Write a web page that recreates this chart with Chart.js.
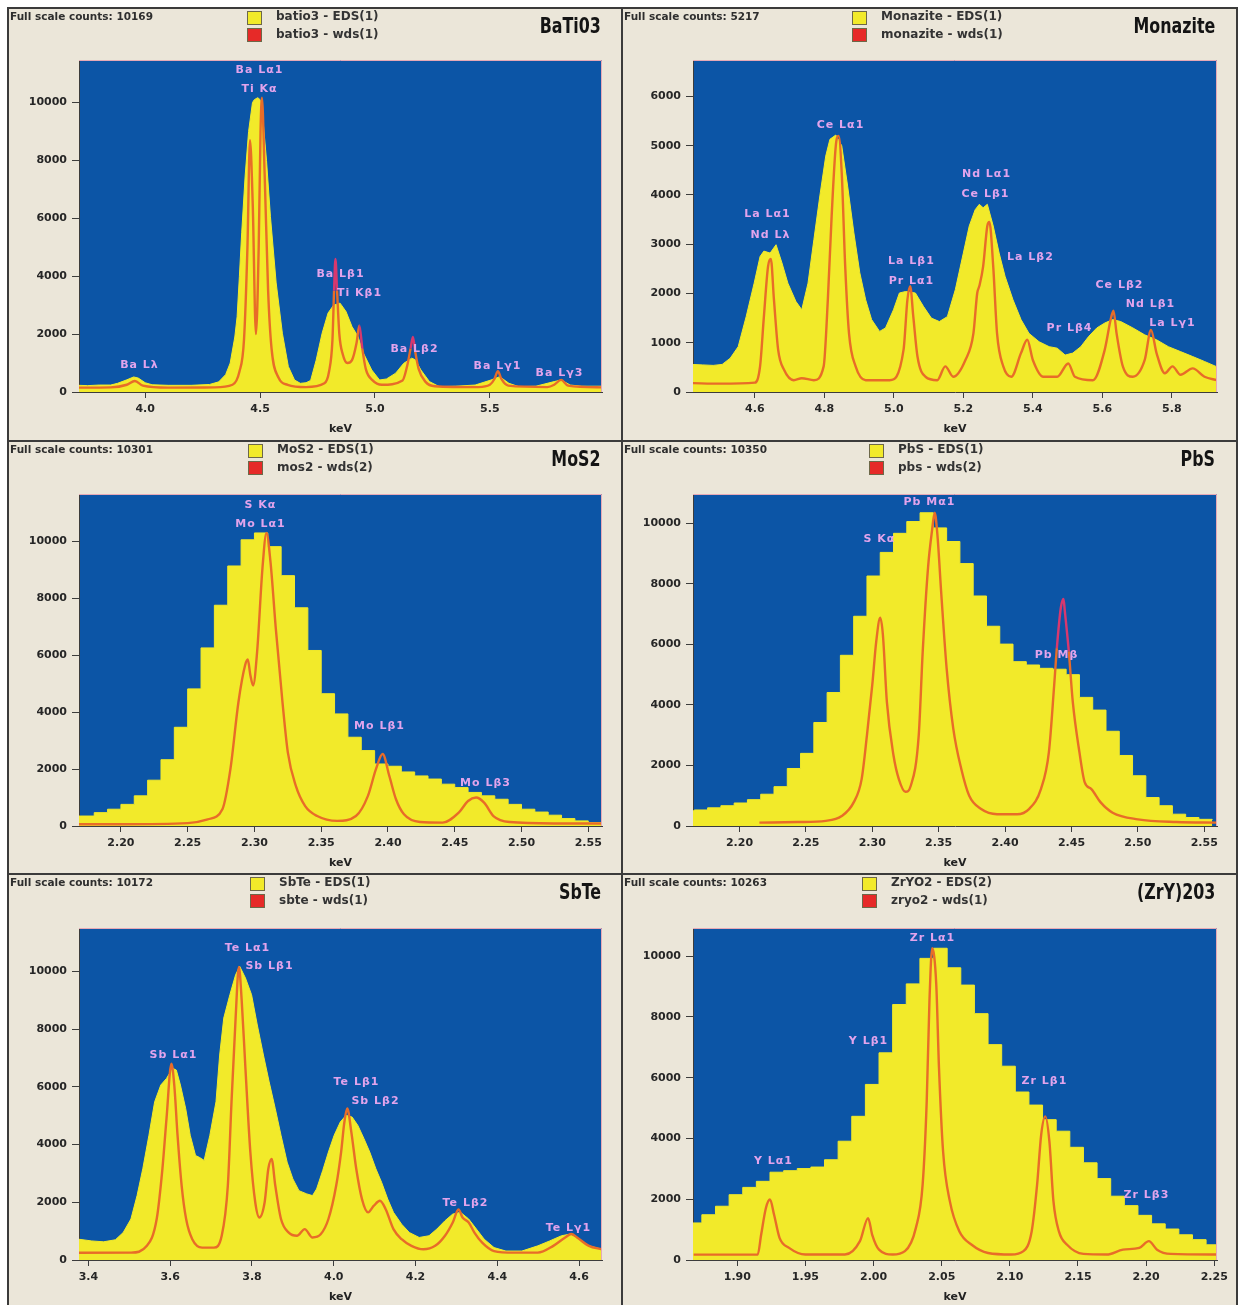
<!DOCTYPE html>
<html><head><meta charset="utf-8">
<script src="https://cdn.jsdelivr.net/npm/chart.js@4.4.1/dist/chart.umd.min.js"></script>
<style>
html,body{margin:0;padding:0;background:#ffffff;}
#wrap{position:relative;width:1245px;height:1305px;overflow:hidden;background:#ffffff;}
.panel{position:absolute;background:#ebe6d9;}
.rule{position:absolute;background:#3b3b3b;}
canvas{position:absolute;}
.fsc{position:absolute;font:bold 10.5px "DejaVu Sans",sans-serif;line-height:13px;color:#2e2e2e;white-space:nowrap;}
.sq{position:absolute;width:13px;height:12px;border:1px solid #6d6848;}
.lg{position:absolute;font:bold 12px "DejaVu Sans",sans-serif;line-height:13px;color:#333333;white-space:nowrap;}
.name{position:absolute;font:bold 21px "Liberation Sans Narrow","DejaVu Sans Condensed","DejaVu Sans",sans-serif;color:#141414;white-space:nowrap;line-height:22px;transform-origin:right center;transform:translateY(-50%) scaleX(0.84);}
</style>
</head><body>
<div id="wrap"></div>
<script>
// ---------------- DATA ----------------
// BaTiO3
const batioEds = [[3.712,230],[3.75,220],[3.80,240],[3.85,240],[3.88,300],[3.92,420],[3.95,520],[3.97,480],[4.00,320],[4.03,250],[4.10,230],[4.20,230],[4.28,260],[4.32,350],[4.35,600],[4.37,1000],[4.39,1900],[4.40,2600],[4.41,4000],[4.42,5500],[4.435,7460],[4.45,9000],[4.467,10000],[4.475,10100],[4.49,10169],[4.50,10100],[4.51,9650],[4.528,8000],[4.545,6070],[4.57,3770],[4.597,2030],[4.623,880],[4.65,415],[4.675,300],[4.70,320],[4.72,400],[4.744,1100],[4.77,2030],[4.796,2730],[4.82,3000],[4.848,3070],[4.874,2780],[4.90,2260],[4.926,1920],[4.95,1340],[4.986,760],[5.02,415],[5.05,450],[5.09,650],[5.125,990],[5.16,1170],[5.176,1110],[5.20,760],[5.237,360],[5.28,185],[5.35,200],[5.436,240],[5.505,415],[5.543,530],[5.583,300],[5.626,185],[5.70,200],[5.78,360],[5.81,415],[5.85,240],[5.90,200],[5.99,200]];
const batioWds = [[3.712,150],[3.85,160],[3.92,250],[3.955,380],[3.99,220],[4.10,150],[4.30,160],[4.38,250],[4.41,700],[4.43,1800],[4.445,5000],[4.456,8700],[4.468,6500],[4.482,2000],[4.494,5000],[4.502,9000],[4.508,10169],[4.52,7500],[4.535,3500],[4.55,1500],[4.58,500],[4.62,250],[4.70,170],[4.78,300],[4.80,700],[4.815,1800],[4.822,3500],[4.828,4600],[4.835,3500],[4.845,2000],[4.86,1300],[4.88,1000],[4.90,1100],[4.92,1700],[4.932,2300],[4.945,1500],[4.96,800],[4.99,400],[5.03,250],[5.12,400],[5.14,900],[5.155,1500],[5.165,1900],[5.175,1400],[5.19,800],[5.22,350],[5.26,200],[5.45,170],[5.50,250],[5.52,450],[5.535,720],[5.55,450],[5.58,220],[5.75,170],[5.78,250],[5.81,420],[5.84,220],[5.99,160]];
const batioXTicks = [4.0, 4.5, 5.0, 5.5];
const batioPeaks = [['Ba L\u03b11',4.495,11110],['Ti K\u03b1',4.497,10470],['Ba L\u03b21',4.846,4080],['Ti K\u03b21',4.929,3420],['Ba L\u03b22',5.168,1490],['Ba L\u03bb',3.971,930],['Ba L\u03b31',5.530,900],['Ba L\u03b33',5.800,660]];

// Monazite
const monaziteEds = [[4.418,560],[4.45,550],[4.48,540],[4.506,560],[4.529,685],[4.552,920],[4.575,1530],[4.598,2210],[4.615,2750],[4.626,2860],[4.644,2820],[4.661,2990],[4.678,2620],[4.695,2210],[4.718,1840],[4.735,1670],[4.753,2210],[4.77,3100],[4.787,3980],[4.804,4790],[4.816,5130],[4.833,5217],[4.85,5000],[4.867,4180],[4.885,3230],[4.902,2420],[4.919,1870],[4.936,1470],[4.959,1230],[4.976,1300],[4.999,1670],[5.016,2010],[5.034,2040],[5.062,2010],[5.085,1740],[5.108,1500],[5.131,1430],[5.154,1530],[5.177,2080],[5.20,2820],[5.217,3370],[5.234,3700],[5.246,3810],[5.257,3740],[5.269,3810],[5.286,3370],[5.303,2820],[5.32,2350],[5.343,1870],[5.366,1470],[5.389,1190],[5.418,1020],[5.447,920],[5.47,890],[5.493,750],[5.515,790],[5.538,920],[5.561,1130],[5.584,1300],[5.607,1400],[5.63,1470],[5.653,1430],[5.688,1300],[5.722,1160],[5.756,1060],[5.79,920],[5.825,820],[5.86,720],[5.894,620],[5.93,510]];
const monaziteWds = [[4.418,180],[4.5,170],[4.6,190],[4.615,520],[4.626,1530],[4.638,2550],[4.646,2700],[4.655,1870],[4.667,860],[4.684,450],[4.712,240],[4.735,280],[4.77,240],[4.798,520],[4.81,1870],[4.821,3570],[4.833,5000],[4.841,5200],[4.85,4450],[4.86,2550],[4.871,1190],[4.89,520],[4.919,240],[4.988,240],[5.028,860],[5.039,1870],[5.047,2150],[5.056,1530],[5.068,720],[5.091,310],[5.125,240],[5.148,520],[5.171,310],[5.206,650],[5.229,1190],[5.24,2010],[5.246,2150],[5.257,2550],[5.269,3370],[5.275,3450],[5.286,2550],[5.297,1190],[5.315,520],[5.338,310],[5.366,790],[5.384,1060],[5.40,650],[5.43,310],[5.47,310],[5.502,580],[5.521,310],[5.573,240],[5.607,860],[5.624,1470],[5.632,1650],[5.641,1190],[5.659,520],[5.688,310],[5.722,650],[5.74,1260],[5.756,790],[5.78,380],[5.802,520],[5.825,350],[5.86,480],[5.894,310],[5.93,240]];
const monaziteXTicks = [4.6, 4.8, 5.0, 5.2, 5.4, 5.6, 5.8];
const monazitePeaks = [['Ce L\u03b11',4.844,5416],['La L\u03b11',4.634,3604],['Nd L\u03bb',4.644,3197],['Nd L\u03b11',5.265,4418],['Ce L\u03b21',5.263,4011],['La L\u03b21',5.049,2654],['Pr L\u03b11',5.049,2260],['La L\u03b22',5.393,2735],['Pr L\u03b24',5.504,1296],['Ce L\u03b22',5.647,2179],['Nd L\u03b21',5.737,1792],['La L\u03b31',5.800,1398]];

// MoS2 (10 eV channels, value held from channel start)
const mos2EdsKeV = [2.16,2.17,2.18,2.19,2.20,2.21,2.22,2.23,2.24,2.25,2.26,2.27,2.28,2.29,2.30,2.31,2.32,2.33,2.34,2.35,2.36,2.37,2.38,2.39,2.40,2.41,2.42,2.43,2.44,2.45,2.46,2.47,2.48,2.49,2.50,2.51,2.52,2.53,2.54,2.55,2.56];
const mos2EdsCounts = [350,350,470,590,760,1060,1610,2330,3470,4820,6260,7760,9140,10060,10301,9820,8800,7670,6170,4650,3940,3120,2650,2180,2100,1900,1760,1650,1470,1350,1180,1060,940,760,590,490,380,260,180,120,90];
const mos2Wds = [[2.168,60],[2.20,60],[2.25,100],[2.265,235],[2.276,590],[2.282,2000],[2.288,4350],[2.293,5650],[2.295,5850],[2.297,5290],[2.299,4940],[2.302,6120],[2.306,9060],[2.309,10301],[2.312,9290],[2.316,6940],[2.321,4350],[2.325,2590],[2.331,1410],[2.338,700],[2.347,350],[2.362,180],[2.376,350],[2.385,1060],[2.391,2000],[2.396,2530],[2.401,1760],[2.406,940],[2.412,410],[2.424,140],[2.441,120],[2.453,470],[2.46,880],[2.466,1000],[2.472,820],[2.479,350],[2.491,140],[2.524,90],[2.561,90]];
const mos2XTicks = [2.20, 2.25, 2.30, 2.35, 2.40, 2.45, 2.50, 2.55];
const mos2Peaks = [['S K\u03b1',2.304,11290],['Mo L\u03b11',2.304,10608],['Mo L\u03b21',2.393,3528],['Mo L\u03b23',2.473,1529]];

// PbS
const pbsEdsKeV = [2.156,2.166,2.176,2.186,2.196,2.206,2.216,2.226,2.236,2.246,2.256,2.266,2.276,2.286,2.296,2.306,2.316,2.326,2.336,2.346,2.356,2.366,2.376,2.386,2.396,2.406,2.416,2.426,2.436,2.446,2.456,2.466,2.476,2.486,2.496,2.506,2.516,2.526,2.536,2.546,2.556];
const pbsEdsCounts = [500,530,600,670,760,870,1050,1300,1900,2400,3420,4410,5640,6930,8260,9040,9670,10060,10350,9850,9400,8670,7600,6600,6010,5430,5320,5210,5180,5000,4250,3830,3130,2330,1660,940,670,390,280,220,200];
const pbsWds = [[2.215,110],[2.244,130],[2.265,170],[2.277,330],[2.286,780],[2.292,1550],[2.296,3000],[2.30,4660],[2.303,6100],[2.306,6880],[2.308,6320],[2.311,4100],[2.316,2330],[2.32,1550],[2.325,1130],[2.329,1330],[2.335,3000],[2.338,5770],[2.342,8540],[2.345,9760],[2.347,10350],[2.349,9650],[2.352,7650],[2.356,5210],[2.361,3220],[2.367,1890],[2.373,1000],[2.382,560],[2.394,390],[2.409,390],[2.418,560],[2.427,1220],[2.433,2440],[2.437,4660],[2.439,5880],[2.442,7210],[2.444,7500],[2.445,7100],[2.448,5770],[2.451,4100],[2.456,2440],[2.46,1440],[2.465,1220],[2.472,780],[2.481,440],[2.50,220],[2.529,130],[2.56,110]];
const pbsXTicks = [2.20, 2.25, 2.30, 2.35, 2.40, 2.45, 2.50, 2.55];
const pbsPeaks = [['Pb M\u03b11',2.343,10700],['S K\u03b1',2.305,9480],['Pb M\u03b2',2.438,5656]];

// SbTe
const sbteEds = [[3.376,720],[3.408,660],[3.437,630],[3.466,700],[3.485,950],[3.504,1420],[3.519,2230],[3.533,3160],[3.548,4320],[3.562,5480],[3.577,6060],[3.591,6290],[3.606,6640],[3.615,6580],[3.625,6060],[3.638,5240],[3.649,4320],[3.662,3620],[3.672,3550],[3.683,3450],[3.697,4320],[3.712,5480],[3.721,7100],[3.731,8380],[3.746,9190],[3.76,9880],[3.77,10172],[3.784,9770],[3.799,9190],[3.813,8140],[3.828,7100],[3.842,6170],[3.857,5240],[3.871,4320],[3.886,3390],[3.90,2810],[3.915,2400],[3.934,2290],[3.948,2230],[3.958,2460],[3.973,3100],[3.987,3740],[4.001,4320],[4.016,4780],[4.03,5010],[4.045,4950],[4.059,4660],[4.074,4200],[4.088,3740],[4.103,3160],[4.117,2690],[4.132,2110],[4.146,1650],[4.166,1240],[4.185,950],[4.209,780],[4.233,840],[4.252,1070],[4.272,1360],[4.291,1590],[4.31,1650],[4.33,1420],[4.349,1070],[4.368,720],[4.392,430],[4.421,310],[4.46,310],[4.499,490],[4.528,660],[4.557,840],[4.576,890],[4.60,720],[4.624,490],[4.656,370]];
const sbteWds = [[3.376,250],[3.504,255],[3.543,490],[3.567,1420],[3.581,3160],[3.591,4900],[3.603,6800],[3.61,6060],[3.618,4320],[3.628,2580],[3.639,1420],[3.654,720],[3.678,430],[3.707,430],[3.726,840],[3.741,2580],[3.75,5480],[3.76,8380],[3.768,10150],[3.775,8960],[3.784,6640],[3.796,3740],[3.808,2000],[3.818,1470],[3.831,2000],[3.84,3160],[3.848,3500],[3.857,2580],[3.871,1420],[3.89,950],[3.91,840],[3.929,1070],[3.948,780],[3.968,890],[3.987,1420],[4.006,2580],[4.018,3740],[4.026,4780],[4.033,5250],[4.043,4430],[4.055,3160],[4.069,2110],[4.084,1650],[4.098,1880],[4.113,2050],[4.127,1760],[4.146,1070],[4.166,720],[4.19,490],[4.219,370],[4.248,490],[4.272,840],[4.291,1300],[4.305,1750],[4.315,1470],[4.33,1300],[4.344,950],[4.363,600],[4.392,310],[4.441,255],[4.499,255],[4.537,490],[4.566,780],[4.581,900],[4.595,780],[4.624,490],[4.656,370]];
const sbteXTicks = [3.4, 3.6, 3.8, 4.0, 4.2, 4.4, 4.6];
const sbtePeaks = [['Te L\u03b11',3.789,10811],['Sb L\u03b21',3.842,10173],['Sb L\u03b11',3.606,7099],['Te L\u03b21',4.055,6171],['Sb L\u03b22',4.101,5498],['Te L\u03b22',4.322,1972],['Te L\u03b31',4.574,1102]];

// (ZrY)2O3
const zryEdsKeV = [1.864,1.874,1.884,1.894,1.904,1.914,1.924,1.934,1.944,1.954,1.964,1.974,1.984,1.994,2.004,2.014,2.024,2.034,2.044,2.054,2.064,2.074,2.084,2.094,2.104,2.114,2.124,2.134,2.144,2.154,2.164,2.174,2.184,2.194,2.204,2.214,2.224,2.234,2.244,2.254];
const zryEdsCounts = [1220,1490,1770,2150,2390,2590,2890,2940,3010,3060,3300,3910,4730,5780,6820,8410,9090,9930,10263,9620,9050,8110,7090,6380,5530,5100,4620,4240,3710,3200,2680,2100,1790,1470,1190,1020,830,670,500,500];
const zryWds = [[1.868,176],[1.915,180],[1.9175,830],[1.921,1710],[1.924,1990],[1.927,1490],[1.931,730],[1.938,400],[1.95,180],[1.979,180],[1.99,620],[1.996,1380],[1.999,830],[2.004,340],[2.014,180],[2.023,290],[2.031,1050],[2.036,2480],[2.039,5230],[2.041,8520],[2.043,10263],[2.046,9070],[2.048,6330],[2.051,3580],[2.056,1930],[2.063,940],[2.072,500],[2.084,230],[2.101,180],[2.11,290],[2.116,940],[2.12,2480],[2.123,4130],[2.126,4730],[2.129,3910],[2.132,1930],[2.136,940],[2.142,500],[2.154,200],[2.171,180],[2.183,340],[2.195,400],[2.202,620],[2.208,340],[2.218,200],[2.252,180]];
const zryXTicks = [1.90, 1.95, 2.00, 2.05, 2.10, 2.15, 2.20, 2.25];
const zryPeaks = [['Zr L\u03b11',2.043,10585],['Y L\u03b21',1.996,7203],['Zr L\u03b21',2.125,5885],['Y L\u03b11',1.926,3250],['Zr L\u03b23',2.200,2130]];

const countTicks10k = [0, 2000, 4000, 6000, 8000, 10000];
const countTicks6k = [0, 1000, 2000, 3000, 4000, 5000, 6000];
const fullScaleCounts = [10169, 5217, 10301, 10350, 10172, 10263];
const sampleNames = ['BaTi03', 'Monazite', 'MoS2', 'PbS', 'SbTe', '(ZrY)203'];
const edsLegend = ['batio3 - EDS(1)', 'Monazite - EDS(1)', 'MoS2 - EDS(1)', 'PbS - EDS(1)', 'SbTe - EDS(1)', 'ZrYO2 - EDS(2)'];
const wdsLegend = ['batio3 - wds(1)', 'monazite - wds(1)', 'mos2 - wds(2)', 'pbs - wds(2)', 'sbte - wds(1)', 'zryo2 - wds(1)'];
const keVRanges = [[3.712,5.988],[4.422,5.93],[2.1686,2.5603],[2.165,2.5596],[3.377,4.656],[1.8675,2.252]];
const countMax = [11470, 6740, 11670, 10970, 11500, 10930];

// ---------------- LAYOUT / STYLE ----------------
const L = {
  colX:[8,622], colW:[614,615], panelTop:[8,441,874], panelH:[433,433,431],
  canvasTop:[7,441,875], canvasH:433, plotLeft:71, plotTop:53, plotW:[523,524], plotH:332,
  legendOff:[239,230,240,247,242,240], nameRight:[601,1215]
};
const C = { bg:'#ebe6d9', blue:'#0c55a6', yellow:'#f2ea2a', wds:'#e86c28', wdsOver:'#d8386e', label:'#e2a4ec', tick:'#262626', axis:'#3c3c3c', frame:'#e6a9b6' };
Chart.defaults.font.family = '"DejaVu Sans", sans-serif';

const toXY = a => a.map(p => ({x:p[0], y:p[1]}));
const zipXY = (xs, ys) => xs.map((x,i) => ({x:x, y:ys[i]}));

const panels = [
  {eds: toXY(batioEds), wds: toXY(batioWds), stepped:false, xTicks: batioXTicks, dec:1, yTicks: countTicks10k, peaks: batioPeaks},
  {eds: toXY(monaziteEds), wds: toXY(monaziteWds), stepped:false, xTicks: monaziteXTicks, dec:1, yTicks: countTicks6k, peaks: monazitePeaks},
  {eds: zipXY(mos2EdsKeV, mos2EdsCounts), wds: toXY(mos2Wds), stepped:true, xTicks: mos2XTicks, dec:2, yTicks: countTicks10k, peaks: mos2Peaks},
  {eds: zipXY(pbsEdsKeV, pbsEdsCounts), wds: toXY(pbsWds), stepped:true, xTicks: pbsXTicks, dec:2, yTicks: countTicks10k, peaks: pbsPeaks},
  {eds: toXY(sbteEds), wds: toXY(sbteWds), stepped:false, xTicks: sbteXTicks, dec:1, yTicks: countTicks10k, peaks: sbtePeaks},
  {eds: zipXY(zryEdsKeV, zryEdsCounts), wds: toXY(zryWds), stepped:true, xTicks: zryXTicks, dec:2, yTicks: countTicks10k, peaks: zryPeaks}
];

// EDS level under a given energy (used only to colour the WDS stroke where it rises above the EDS fill)
function edsLevel(pts, stepped, x){
  for (let k = 0; k < pts.length - 1; k++) {
    const a = pts[k], b = pts[k+1];
    if (x >= a.x && x <= b.x) {
      if (stepped) return a.y;
      return a.y + (b.y - a.y) * (x - a.x) / (b.x - a.x);
    }
  }
  return 0;
}

const wrap = document.getElementById('wrap');
function el(cls, css, text){ const d=document.createElement('div'); d.className=cls; Object.assign(d.style, css); if(text!==undefined) d.textContent=text; wrap.appendChild(d); return d; }

for (let r=0;r<3;r++) for (let c=0;c<2;c++) {
  el('panel', {left:L.colX[c]+'px', top:L.panelTop[r]+'px', width:L.colW[c]+'px', height:L.panelH[r]+'px'});
}

const plotBg = { id:'plotBg', beforeDraw(chart){ const a=chart.chartArea, ctx=chart.ctx; ctx.save(); ctx.fillStyle=C.blue; ctx.fillRect(a.left,a.top,a.right-a.left,a.bottom-a.top); ctx.restore(); } };
const plotFrame = { id:'plotFrame', afterDatasetsDraw(chart){ const a=chart.chartArea, ctx=chart.ctx; ctx.save(); ctx.strokeStyle=C.frame; ctx.lineWidth=1; ctx.beginPath(); ctx.moveTo(a.left, a.top+0.5); ctx.lineTo(a.right-0.5, a.top+0.5); ctx.lineTo(a.right-0.5, a.bottom); ctx.stroke(); ctx.restore(); } };
function labelPlugin(items){ return { id:'peakLabels', afterDatasetsDraw(chart){ const ctx=chart.ctx, xs=chart.scales.x, ys=chart.scales.y; ctx.save(); ctx.font='bold 11px "DejaVu Sans"'; ctx.fillStyle=C.label; ctx.textAlign='center'; ctx.textBaseline='middle'; try{ctx.letterSpacing='1px';}catch(e){} items.forEach(it=>{ ctx.fillText(it[0], Math.round(xs.getPixelForValue(it[1]))+0.5, Math.round(ys.getPixelForValue(it[2]))); }); ctx.restore(); } }; }

panels.forEach((p, i) => {
  const col = i % 2, row = Math.floor(i / 2);
  const W = L.colW[col], H = L.canvasH, pw = L.plotW[col];
  const cv = document.createElement('canvas');
  cv.width = W; cv.height = H;
  cv.style.left = L.colX[col]+'px'; cv.style.top = L.canvasTop[row]+'px';
  cv.style.width = W+'px'; cv.style.height = H+'px';
  wrap.appendChild(cv);
  const tickFont = {family:'"DejaVu Sans"', weight:'bold', size:11};
  const segColor = ctx => {
    const y0 = ctx.p0.parsed.y, y1 = ctx.p1.parsed.y, xm = (ctx.p0.parsed.x + ctx.p1.parsed.x) / 2;
    const top = Math.min(y0, y1) + 0.5 * Math.abs(y1 - y0);
    return top > edsLevel(p.eds, p.stepped, xm) + 150 ? C.wdsOver : C.wds;
  };
  new Chart(cv.getContext('2d'), {
    type:'line',
    data:{ datasets:[
      { label: wdsLegend[i], data: p.wds, borderColor: C.wds, borderWidth: 2.4, fill:false, pointRadius:0, cubicInterpolationMode:'monotone', order:1, clip:0, segment:{ borderColor: segColor } },
      { label: edsLegend[i], data: p.eds, borderColor: C.yellow, borderWidth: 1, backgroundColor: C.yellow, fill:'origin', pointRadius:0, stepped: p.stepped ? 'before' : false, tension:0, order:2, clip:0 }
    ]},
    options:{
      responsive:false, animation:false, devicePixelRatio:1,
      layout:{ padding:{ left:0, top:L.plotTop, right:W-L.plotLeft-pw, bottom:0 } },
      plugins:{ legend:{display:false}, tooltip:{enabled:false}, title:{display:false} },
      scales:{
        x:{ type:'linear', min:keVRanges[i][0], max:keVRanges[i][1], z:1,
            afterBuildTicks: s => { s.ticks = p.xTicks.map(v => ({value:v})); },
            afterFit: s => { s.height = H - L.plotTop - L.plotH; s.paddingLeft = 0; s.paddingRight = 0; },
            ticks:{ autoSkip:false, maxRotation:0, minRotation:0, padding:5, color:C.tick, font:tickFont, callback: v => Number(v).toFixed(p.dec) },
            grid:{ drawOnChartArea:false, drawTicks:true, tickLength:6, color:C.axis, lineWidth:1 },
            border:{ display:true, color:C.axis, width:1 },
            title:{ display:true, text:'keV', color:'#222', font:{family:'"DejaVu Sans"', weight:'bold', size:11}, padding:{top:0, bottom:4} } },
        y:{ type:'linear', min:0, max:countMax[i], z:1,
            afterBuildTicks: s => { s.ticks = p.yTicks.map(v => ({value:v})); },
            afterFit: s => { s.width = L.plotLeft; s.paddingTop = 0; s.paddingBottom = 0; },
            ticks:{ autoSkip:false, padding:5, color:C.tick, font:tickFont, callback: v => String(v) },
            grid:{ drawOnChartArea:false, drawTicks:true, tickLength:7, color:C.axis, lineWidth:1 },
            border:{ display:true, color:C.axis, width:1 } }
      }
    },
    plugins:[plotBg, plotFrame, labelPlugin(p.peaks)]
  });

  const pl = L.colX[col], pt = L.panelTop[row];
  el('fsc', {left:(pl+2)+'px', top:(pt+2)+'px'}, 'Full scale counts: ' + fullScaleCounts[i]);
  const sx = pl + L.legendOff[i];
  el('sq', {left:sx+'px', top:(pt+3)+'px', background:C.yellow});
  el('sq', {left:sx+'px', top:(pt+20)+'px', background:'#e62a28'});
  el('lg', {left:(sx+29)+'px', top:(pt+2)+'px'}, edsLegend[i]);
  el('lg', {left:(sx+29)+'px', top:(pt+20)+'px'}, wdsLegend[i]);
  el('name', {right:(1245 - L.nameRight[col])+'px', top:(pt+18)+'px'}, sampleNames[i]);
});

[[7,7,1231,2],[7,440,1231,2],[7,873,1231,2]].forEach(r=>el('rule',{left:r[0]+'px',top:r[1]+'px',width:r[2]+'px',height:r[3]+'px'}));
[[7,7,2,1298],[621,7,2,1298],[1236,7,2,1298]].forEach(r=>el('rule',{left:r[0]+'px',top:r[1]+'px',width:r[2]+'px',height:r[3]+'px'}));
</script>
</body></html>
